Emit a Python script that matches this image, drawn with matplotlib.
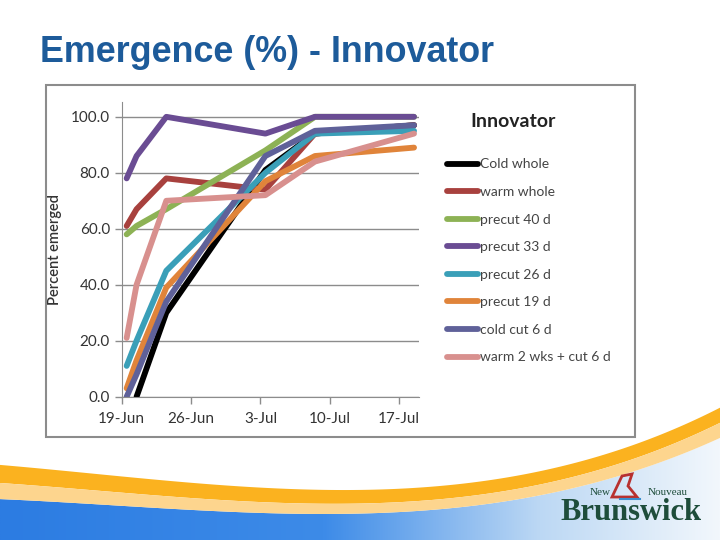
import matplotlib
matplotlib.use("Agg")
import matplotlib.pyplot as plt
import matplotlib.dates as mdates
from matplotlib.patches import Rectangle, Polygon
import numpy as np

# data
dates = ["2010-06-19", "2010-06-20", "2010-06-23", "2010-07-03", "2010-07-08", "2010-07-18"]
cold_whole = [np.nan, 0.0, 30.0, 81.0, 94.0, 97.0]
warm_whole = [61.0, 67.0, 78.0, 74.0, 94.0, 97.0]
precut_40 = [58.0, 61.0, 67.0, 88.0, 100.0, 100.0]
precut_33 = [78.0, 86.0, 100.0, 94.0, 100.0, 100.0]
precut_26 = [11.0, 20.0, 45.0, 80.0, 94.0, 95.0]
precut_19 = [3.0, 13.0, 39.0, 77.0, 86.0, 89.0]
cold_cut_6 = [0.0, 8.0, 34.0, 86.0, 95.0, 97.0]
warm_2wk_cut_6 = [21.0, 40.0, 70.0, 72.0, 84.0, 94.0]

labels = ["Cold whole", "warm whole", "precut 40 d", "precut 33 d",
          "precut 26 d", "precut 19 d", "cold cut 6 d", "warm 2 wks + cut 6 d"]
colors = ["#000000", "#A8413E", "#8DB255", "#6A4C93",
          "#3A9FB8", "#E0843A", "#5F6199", "#D8908E"]
series = [cold_whole, warm_whole, precut_40, precut_33,
          precut_26, precut_19, cold_cut_6, warm_2wk_cut_6]

tick_dates = ["2010-06-19", "2010-06-26", "2010-07-03", "2010-07-10", "2010-07-17"]
tick_labels = ["19-Jun", "26-Jun", "3-Jul", "10-Jul", "17-Jul"]
y_ticks = [0, 20, 40, 60, 80, 100]

W, H = 720, 540
fig = plt.figure(figsize=(7.2, 5.4), dpi=100)
fig.patch.set_facecolor("white")

# ---- slide decoration (bottom swoosh) ----
bg = fig.add_axes([0, 0, 1, 1], zorder=0)
bg.set_xlim(0, W)
bg.set_ylim(H, 0)
bg.axis("off")

xs = np.linspace(0, W, 200)
def curve(px, py):
    return np.polyval(np.polyfit(px, py, 3), xs)

cx = [0, 150, 300, 450, 600, 720]
top_o = curve(cx, [465, 479, 489, 486, 455, 408])
mid_o = curve(cx, [483, 495, 503, 499, 469, 423])
bot_l = curve(cx, [499, 508, 513, 509, 481, 438])

grad = np.linspace(0, 1, 256)
cmap = matplotlib.colors.LinearSegmentedColormap.from_list(
    "sky", [(0, "#2C7CE2"), (0.45, "#3D8BE8"), (0.75, "#BCD8F4"), (1.0, "#F2F7FC")])
im = bg.imshow(np.tile(grad, (10, 1)), cmap=cmap, extent=[0, W, H, 380], aspect="auto", zorder=1)
blue_poly = Polygon(np.column_stack([np.r_[xs, W, 0], np.r_[bot_l, H, H]]), closed=True,
                    facecolor="none", edgecolor="none")
bg.add_patch(blue_poly)
im.set_clip_path(blue_poly)
bg.fill_between(xs, top_o, mid_o, color="#FBB21F", lw=0, zorder=2)
bg.fill_between(xs, mid_o, bot_l, color="#FDD58E", lw=0, zorder=2)

# logo
bg.add_patch(Polygon([[612, 497], [622, 476], [632, 474], [628, 486], [637, 497]],
                     closed=True, facecolor="none", edgecolor="#B8312F", lw=2, zorder=3))
bg.plot([620, 640], [499, 499], color="#3A8FCF", lw=1.5, zorder=3)
bg.text(600, 497, "New", fontsize=8, color="#1E4D3B", family="Liberation Serif",
        ha="center", va="bottom", zorder=4)
bg.text(668, 497, "Nouveau", fontsize=8, color="#1E4D3B", family="Liberation Serif",
        ha="center", va="bottom", zorder=4)
bg.text(631, 512, "Brunswick", fontsize=22, fontweight="bold", color="#1E4D3B",
        family="Liberation Serif", ha="center", va="center", zorder=4)

# title
fig.text(40 / W, 1 - 52 / H, "Emergence (%) - Innovator", fontsize=25.8, fontweight="bold",
         color="#1D5B9A", family="Liberation Sans", ha="left", va="center")

# chart frame
bg.add_patch(Rectangle((46, 85), 589, 352, facecolor="white", edgecolor="#8C8C8C", lw=1.5, zorder=3))

# ---- chart ----
x0 = mdates.datestr2num(dates[0])
xvals = mdates.datestr2num(dates) + 0.5
ax = fig.add_axes([121.7 / W, 1 - 396.7 / H, 297.3 / W, 295 / H], zorder=5)
ax.patch.set_alpha(0)
for vals, col, lab in zip(series, colors, labels):
    ax.plot(xvals, vals, color=col, lw=4.2, label=lab,
            solid_capstyle="round", solid_joinstyle="round")

ax.set_xlim(x0, x0 + 30)
ax.set_ylim(0, 105.4)
ax.set_yticks(y_ticks)
ax.set_yticklabels([f"{v:.1f}" for v in y_ticks])
ax.set_xticks(mdates.datestr2num(tick_dates))
ax.set_xticklabels(tick_labels)
ax.grid(axis="y", color="#8C8C8C", lw=1)
ax.set_axisbelow(True)
for s in ["top", "right"]:
    ax.spines[s].set_visible(False)
for s in ["left", "bottom"]:
    ax.spines[s].set_color("#8C8C8C")
ax.tick_params(axis="both", colors="#8C8C8C", length=5, width=1, labelsize=11,
               labelcolor="#333333")
ax.tick_params(axis="x", pad=6)
for t in ax.get_xticklabels() + ax.get_yticklabels():
    t.set_family("Lato")
ax.set_ylabel("Percent emerged", fontsize=10.5, family="Lato", fontweight="semibold",
              color="#333333", labelpad=6)

# legend
fig.text(513 / W, 1 - 122 / H, "Innovator", fontsize=14, fontweight="bold", family="Lato",
         color="#222222", ha="center", va="center")
leg = fig.legend(*ax.get_legend_handles_labels(), loc="upper left",
                 bbox_to_anchor=(434 / W, 1 - 146 / H), frameon=False,
                 handlelength=2.3, handletextpad=0.1, labelspacing=1.12,
                 prop={"family": "Lato", "size": 10})
for t in leg.get_texts():
    t.set_color("#444444")
leg.set_zorder(6)

fig.savefig("out.png", dpi=100)
